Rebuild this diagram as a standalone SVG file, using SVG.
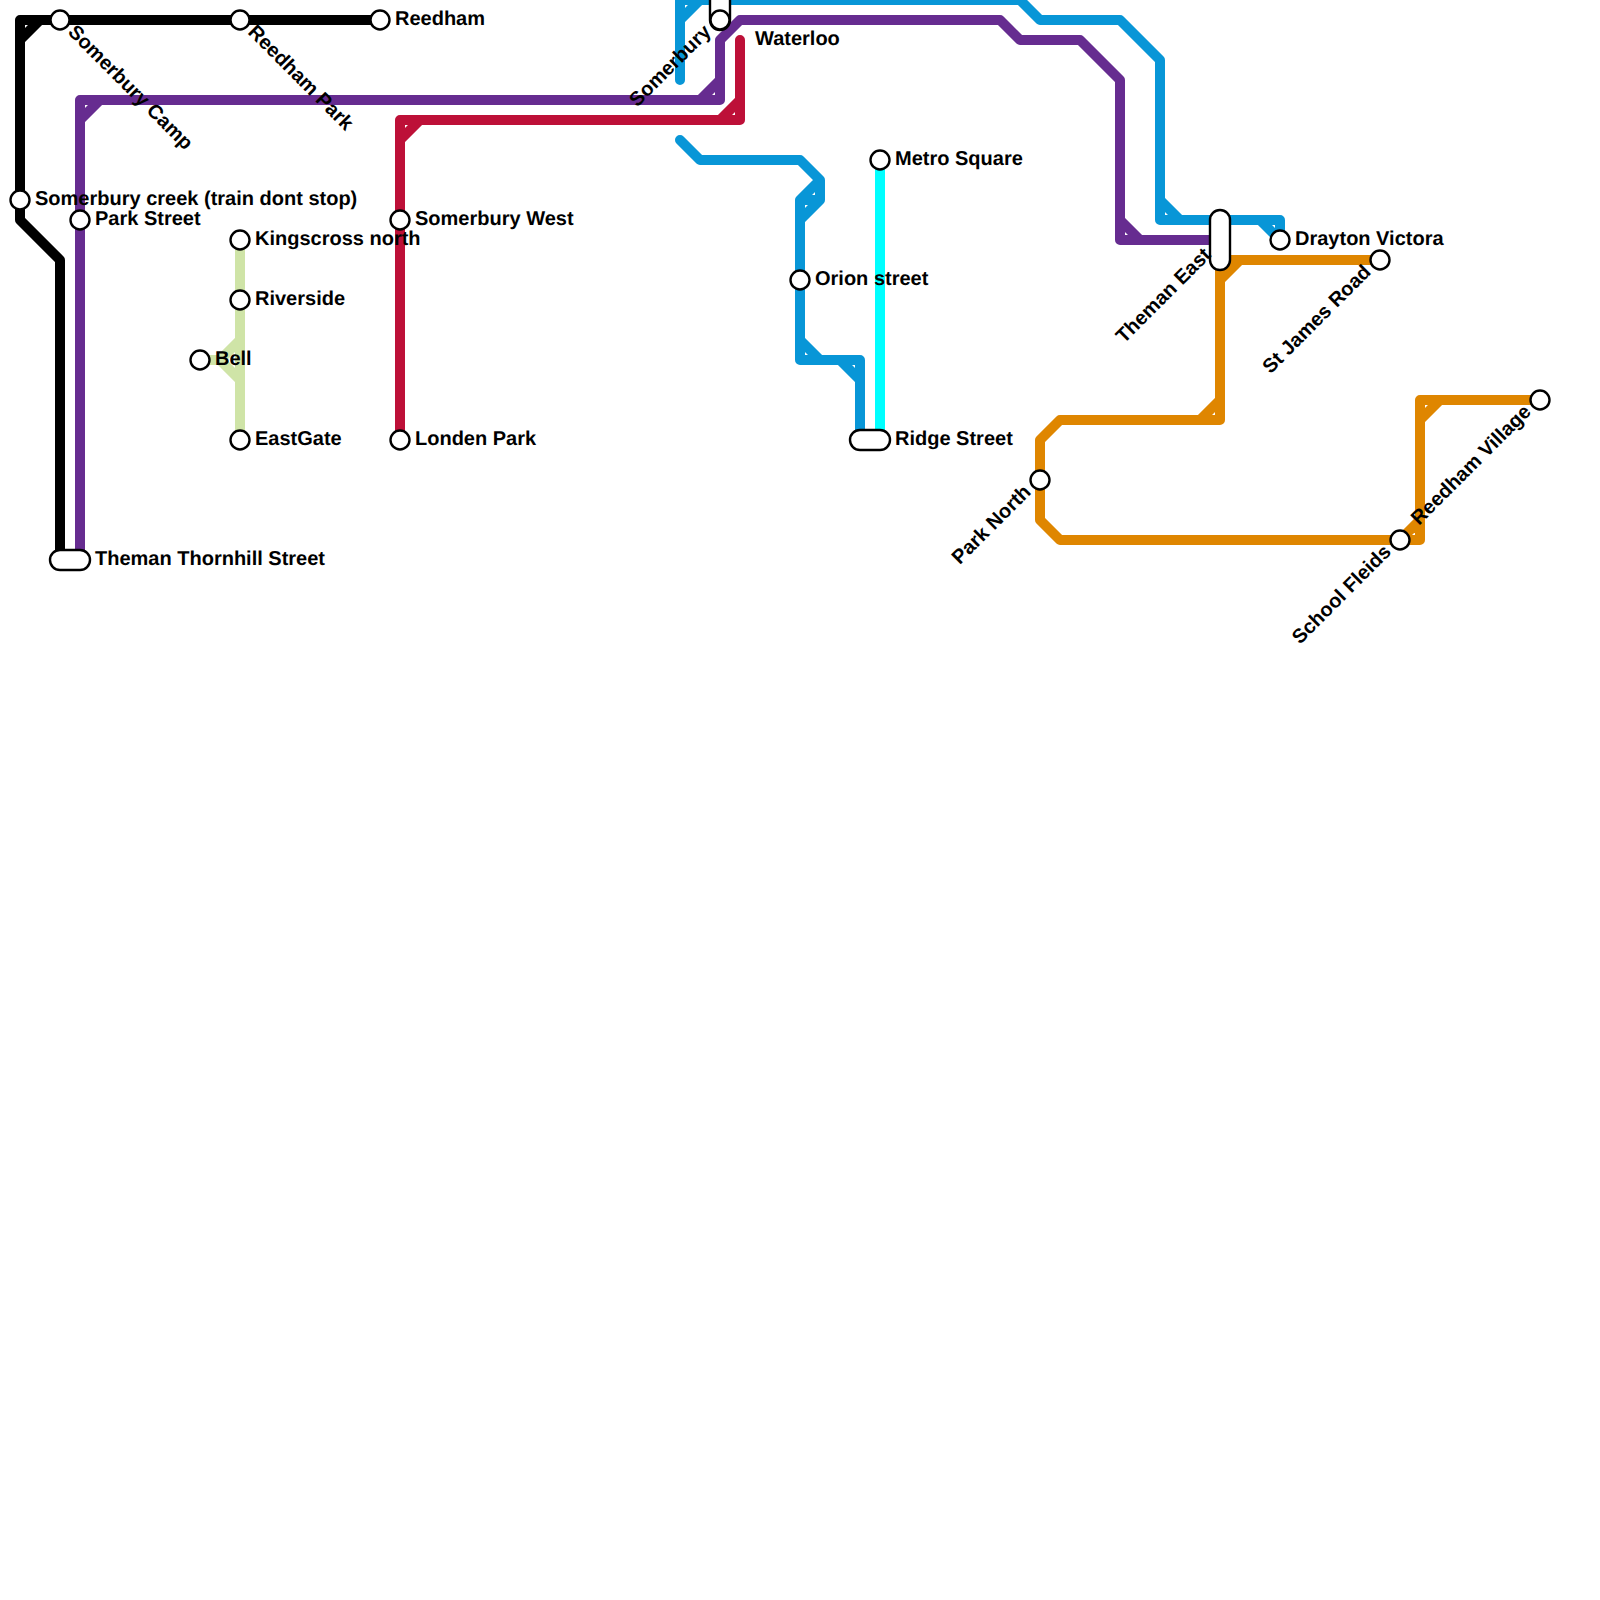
<svg xmlns="http://www.w3.org/2000/svg" width="1600" height="1600" viewBox="0 0 1600 1600">
<style>
.l{fill:none;stroke-width:10;stroke-linejoin:round;stroke-linecap:round}
.k{stroke:#000}.p{stroke:#662c90}.r{stroke:#bd1038}.b{stroke:#0896d7}.c{stroke:#0ff}.o{stroke:#df8600}.g{stroke:#cfe4a7}
.s{fill:#fff;stroke:#000;stroke-width:2.4}
text{font-family:"Liberation Sans",Arial,sans-serif;font-weight:700;font-size:20px;fill:#000;text-rendering:geometricPrecision}
.e{text-anchor:end}
</style>
<rect width="1600" height="1600" fill="#fff"/>
<g id="connectors">
<path class="l k" d="M380 20H20V220L60 260V560M20 20H40L20 40Z"/>
<path class="l p" d="M80 560V100H720V40L740 20H1000L1020 40H1080L1120 80V240H1220M80 100H100L80 120ZM720 100H700L720 80ZM1120 220V240H1140Z"/>
<path class="l r" d="M740 40V120H400V440M740 120H720L740 100ZM400 120H420L400 140Z"/>
<path class="l b" d="M680 80V0H1020L1040 20H1120L1160 60V220H1280V240M680 0H700L680 20ZM1160 200V220H1180ZM1280 220H1260L1280 240Z"/>
<path class="l b" d="M680 140L700 160H800L820 180V200L800 220V360H860V440M820 180L800 200V220M820 200L800 200M800 340V360H820ZM840 360H860V380Z"/>
<path class="l c" style="stroke-linecap:butt" d="M880 160V440"/>
<path class="l o" d="M1380 260H1220V420H1060L1040 440V520L1060 540H1420V400H1540M1220 260H1240L1220 280ZM1220 420H1200L1220 400ZM1420 400H1440L1420 420ZM1420 540H1400L1420 520Z"/>
<path class="l g" style="stroke-linecap:butt" d="M240 240V440M200 360H220"/>
<path class="l g" d="M240 340L220 360L240 380Z"/>
</g>
<g id="somerbury-creek"><circle class="s" cx="20" cy="200" r="9.5"/><text x="35" y="205">Somerbury creek (train dont stop)</text></g>
<g id="somerbury-camp"><circle class="s" cx="60" cy="20" r="9.5"/><text transform="translate(67 33) rotate(45)">Somerbury Camp</text></g>
<g id="reedham-park"><circle class="s" cx="240" cy="20" r="9.5"/><text transform="translate(247 33) rotate(45)">Reedham Park</text></g>
<g id="reedham"><circle class="s" cx="380" cy="20" r="9.5"/><text x="395" y="25">Reedham</text></g>
<g id="park-street"><circle class="s" cx="80" cy="220" r="9.5"/><text x="95" y="225">Park Street</text></g>
<g id="theman-thornhill-street"><rect class="s" x="50" y="550" width="40" height="20" rx="10"/><text x="95" y="565">Theman Thornhill Street</text></g>
<g id="kingscross-north"><circle class="s" cx="240" cy="240" r="9.5"/><text x="255" y="245">Kingscross north</text></g>
<g id="riverside"><circle class="s" cx="240" cy="300" r="9.5"/><text x="255" y="305">Riverside</text></g>
<g id="bell"><circle class="s" cx="200" cy="360" r="9.5"/><text x="215" y="365">Bell</text></g>
<g id="eastgate"><circle class="s" cx="240" cy="440" r="9.5"/><text x="255" y="445">EastGate</text></g>
<g id="somerbury-west"><circle class="s" cx="400" cy="220" r="9.5"/><text x="415" y="225">Somerbury West</text></g>
<g id="londen-park"><circle class="s" cx="400" cy="440" r="9.5"/><text x="415" y="445">Londen Park</text></g>
<g id="somerbury"><rect class="s" x="710" y="-20" width="20" height="50" rx="10"/><circle class="s" cx="720" cy="20" r="9.5"/><text class="e" transform="translate(712 33) rotate(-45)">Somerbury</text></g>
<g id="waterloo"><text x="755" y="45">Waterloo</text></g>
<g id="metro-square"><circle class="s" cx="880" cy="160" r="9.5"/><text x="895" y="165">Metro Square</text></g>
<g id="orion-street"><circle class="s" cx="800" cy="280" r="9.5"/><text x="815" y="285">Orion street</text></g>
<g id="ridge-street"><rect class="s" x="850" y="430" width="40" height="20" rx="10"/><text x="895" y="445">Ridge Street</text></g>
<g id="park-north"><circle class="s" cx="1040" cy="480" r="9.5"/><text class="e" transform="translate(1032 493) rotate(-45)">Park North</text></g>
<g id="theman-east"><rect class="s" x="1210" y="210" width="20" height="60" rx="10"/><text class="e" transform="translate(1212 256) rotate(-45)">Theman East</text></g>
<g id="drayton-victora"><circle class="s" cx="1280" cy="240" r="9.5"/><text x="1295" y="245">Drayton Victora</text></g>
<g id="st-james-road"><circle class="s" cx="1380" cy="260" r="9.5"/><text class="e" transform="translate(1372 273) rotate(-45)">St James Road</text></g>
<g id="school-fleids"><circle class="s" cx="1400" cy="540" r="9.5"/><text class="e" transform="translate(1392 553) rotate(-45)">School Fleids</text></g>
<g id="reedham-village"><circle class="s" cx="1540" cy="400" r="9.5"/><text class="e" transform="translate(1532 413) rotate(-45)">Reedham Village</text></g>
</svg>
